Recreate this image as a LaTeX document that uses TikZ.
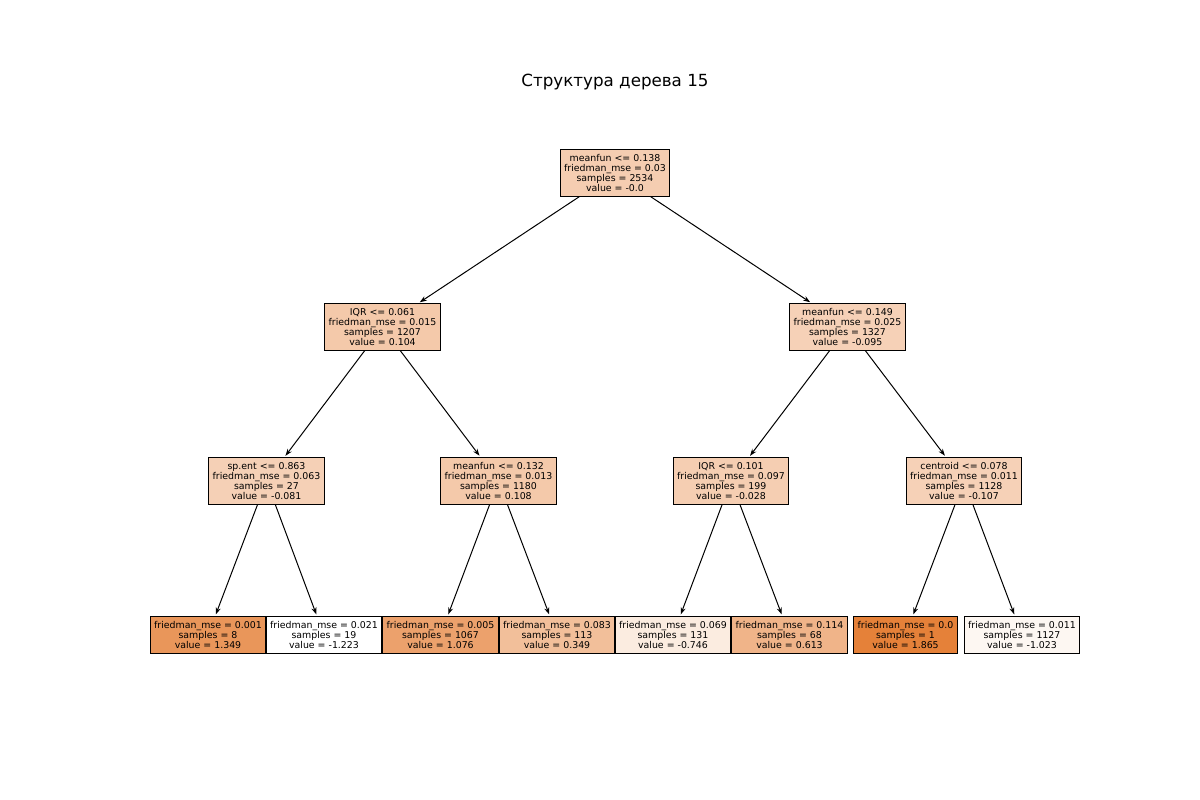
\documentclass[tikz,border=0pt]{standalone}
\usepackage{fontspec}
\setmainfont{DejaVu Sans}
\usetikzlibrary{arrows.meta}

\definecolor{cRoot}{RGB}{245,205,177}
\definecolor{cA}{RGB}{244,201,170}
\definecolor{cB}{RGB}{246,209,183}
\definecolor{cC}{RGB}{245,208,182}
\definecolor{cD}{RGB}{245,206,178}
\definecolor{cLa}{RGB}{233,150,90}
\definecolor{cLb}{RGB}{255,255,255}
\definecolor{cLc}{RGB}{236,161,108}
\definecolor{cLd}{RGB}{242,191,154}
\definecolor{cLe}{RGB}{251,236,224}
\definecolor{cLf}{RGB}{240,180,137}
\definecolor{cLg}{RGB}{229,129,57}
\definecolor{cLh}{RGB}{253,247,242}

\begin{document}
\begin{tikzpicture}[x=1pt, y=-1pt,
        treenode/.style={draw=black, line width=1.1pt, align=center, inner xsep=4pt, inner ysep=4.5pt,
                font=\fontsize{9.4pt}{10pt}\selectfont},
        edge/.style={line width=1pt, -{Stealth[length=7pt,width=5pt]}, shorten >=2pt}]
        \useasboundingbox (0,0) rectangle (1200,800);
        \node[font=\fontsize{16.7pt}{20pt}\selectfont] (title) at (615,82) {Структура дерева 15};

        \node[treenode, fill=cRoot] (root) at (615,173) {meanfun <= 0.138\\friedman\_mse = 0.03\\samples = 2534\\value = -0.0};

        \node[treenode, fill=cA] (l) at (382.5,327) {IQR <= 0.061\\friedman\_mse = 0.015\\samples = 1207\\value = 0.104};
        \node[treenode, fill=cB] (r) at (847.5,327) {meanfun <= 0.149\\friedman\_mse = 0.025\\samples = 1327\\value = -0.095};

        \node[treenode, fill=cC] (ll) at (266.5,481) {sp.ent <= 0.863\\friedman\_mse = 0.063\\samples = 27\\value = -0.081};
        \node[treenode, fill=cA] (lr) at (498.5,481) {meanfun <= 0.132\\friedman\_mse = 0.013\\samples = 1180\\value = 0.108};
        \node[treenode, fill=cD] (rl) at (731,481) {IQR <= 0.101\\friedman\_mse = 0.097\\samples = 199\\value = -0.028};
        \node[treenode, fill=cB] (rr) at (964,481) {centroid <= 0.078\\friedman\_mse = 0.011\\samples = 1128\\value = -0.107};

        \node[treenode, fill=cLa] (lll) at (208,635) {friedman\_mse = 0.001\\samples = 8\\value = 1.349};
        \node[treenode, fill=cLb] (llr) at (324,635) {friedman\_mse = 0.021\\samples = 19\\value = -1.223};
        \node[treenode, fill=cLc] (lrl) at (440.5,635) {friedman\_mse = 0.005\\samples = 1067\\value = 1.076};
        \node[treenode, fill=cLd] (lrr) at (557,635) {friedman\_mse = 0.083\\samples = 113\\value = 0.349};
        \node[treenode, fill=cLe] (rll) at (673,635) {friedman\_mse = 0.069\\samples = 131\\value = -0.746};
        \node[treenode, fill=cLf] (rlr) at (789.5,635) {friedman\_mse = 0.114\\samples = 68\\value = 0.613};
        \node[treenode, fill=cLg] (rrl) at (905.5,635) {friedman\_mse = 0.0\\samples = 1\\value = 1.865};
        \node[treenode, fill=cLh] (rrr) at (1022,635) {friedman\_mse = 0.011\\samples = 1127\\value = -1.023};

        \draw[edge] (root) -- (l);
        \draw[edge] (root) -- (r);
        \draw[edge] (l) -- (ll);
        \draw[edge] (l) -- (lr);
        \draw[edge] (r) -- (rl);
        \draw[edge] (r) -- (rr);
        \draw[edge] (ll) -- (lll);
        \draw[edge] (ll) -- (llr);
        \draw[edge] (lr) -- (lrl);
        \draw[edge] (lr) -- (lrr);
        \draw[edge] (rl) -- (rll);
        \draw[edge] (rl) -- (rlr);
        \draw[edge] (rr) -- (rrl);
        \draw[edge] (rr) -- (rrr);
\end{tikzpicture}
\end{document}
